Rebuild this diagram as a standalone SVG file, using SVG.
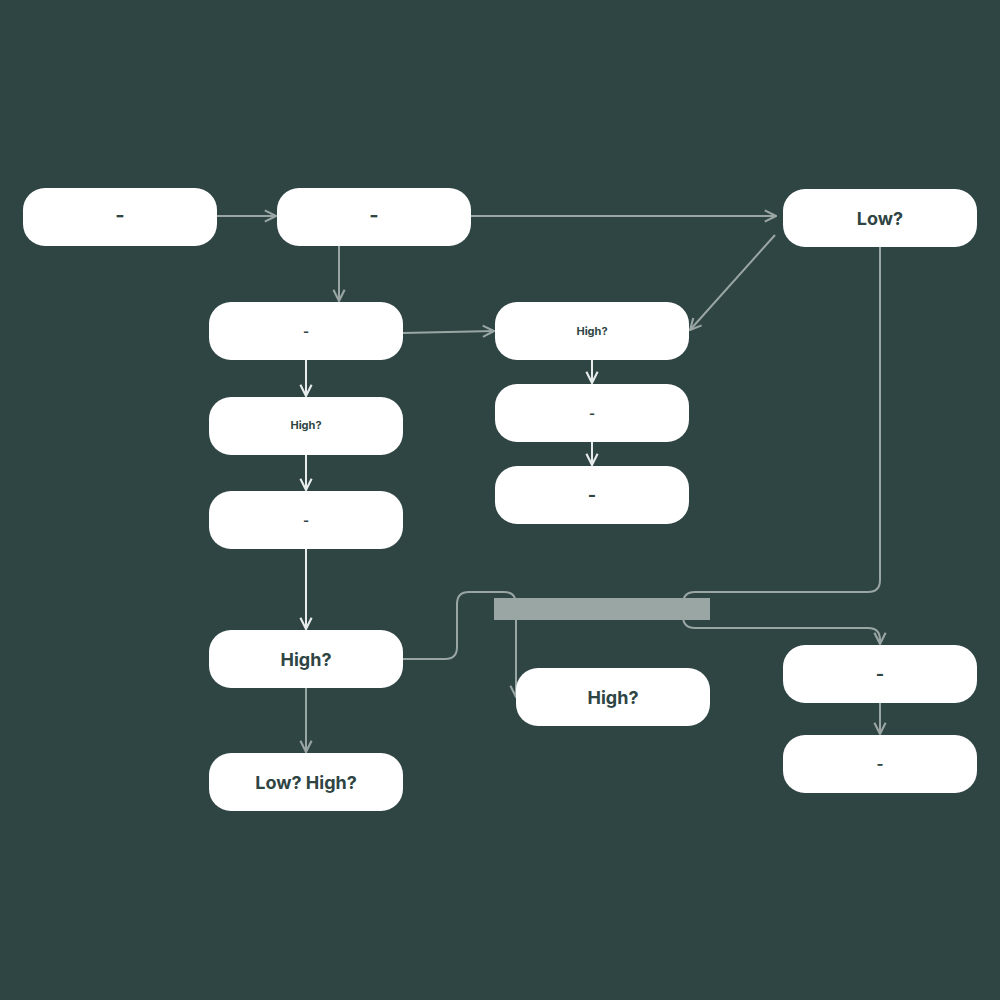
<svg xmlns="http://www.w3.org/2000/svg" width="1000" height="1000" viewBox="0 0 1000 1000">
<defs>
<marker id="ag" viewBox="0 0 10 10" refX="9" refY="5" markerWidth="7" markerHeight="7" orient="auto"><path d="M1,1 L9,5 L1,9" fill="none" stroke="#9aa6a4" stroke-width="1.5"/></marker>
<marker id="aw" viewBox="0 0 10 10" refX="9" refY="5" markerWidth="7" markerHeight="7" orient="auto"><path d="M1,1 L9,5 L1,9" fill="none" stroke="#e8eceb" stroke-width="1.5"/></marker>
</defs>
<style>
.n{fill:#fff}
.t{font-family:Inter,"Liberation Sans",sans-serif;font-weight:bold;fill:#2f4544;text-anchor:middle;dominant-baseline:central}
.g{fill:none;stroke:#9aa6a4;stroke-width:2;marker-end:url(#ag)}
.w{fill:none;stroke:#e8eceb;stroke-width:2;marker-end:url(#aw)}
</style>
<rect width="1000" height="1000" fill="#2f4544"/>
<rect x="494" y="598" width="216" height="22" fill="#9aa6a4"/>
<g id="connectors">
<path class="g" d="M217,216 H276"/>
<path class="g" d="M471,216 H776"/>
<path class="g" d="M775,235 L690,330"/>
<path class="g" d="M339,246 V301"/>
<path class="g" d="M403,333 L494,331"/>
<path class="w" d="M306,360 V396"/>
<path class="w" d="M306,455 V490"/>
<path class="w" d="M306,549 V629"/>
<path class="g" d="M306,688 V752"/>
<path class="w" d="M592,360 V383"/>
<path class="w" d="M592,442 V465"/>
<path class="g" d="M403,659 H445 Q457,659 457,647 V604 Q457,592 469,592 H504 Q516,592 516,604 V697"/>
<path class="g" d="M880,247 V580 Q880,592 868,592 H695 Q683,592 683,604 V616 Q683,628 695,628 H868 Q880,628 880,640 V644"/>
<path class="g" d="M880,703 V734"/>
</g>
<g id="nA"><rect class="n" x="23" y="188" width="194" height="58" rx="22"/><text class="t" x="120" y="215" font-size="20">-</text></g>
<g id="nB"><rect class="n" x="277" y="188" width="194" height="58" rx="22"/><text class="t" x="374" y="215" font-size="20">-</text></g>
<g id="nC"><rect class="n" x="783" y="189" width="194" height="58" rx="22"/><text class="t" x="880" y="218" font-size="18">Low?</text></g>
<g id="nD"><rect class="n" x="209" y="302" width="194" height="58" rx="22"/><text class="t" x="306" y="331" font-size="13">-</text></g>
<g id="nE"><rect class="n" x="495" y="302" width="194" height="58" rx="22"/><text class="t" x="592" y="331" font-size="11">High?</text></g>
<g id="nF"><rect class="n" x="209" y="397" width="194" height="58" rx="22"/><text class="t" x="306" y="425" font-size="11">High?</text></g>
<g id="nG"><rect class="n" x="495" y="384" width="194" height="58" rx="22"/><text class="t" x="592" y="413" font-size="13">-</text></g>
<g id="nH"><rect class="n" x="495" y="466" width="194" height="58" rx="22"/><text class="t" x="592" y="494" font-size="18">-</text></g>
<g id="nI"><rect class="n" x="209" y="491" width="194" height="58" rx="22"/><text class="t" x="306" y="520" font-size="13">-</text></g>
<g id="nJ"><rect class="n" x="209" y="630" width="194" height="58" rx="22"/><text class="t" x="306" y="659" font-size="18">High?</text></g>
<g id="nK"><rect class="n" x="516" y="668" width="194" height="58" rx="22"/><text class="t" x="613" y="697" font-size="18">High?</text></g>
<g id="nL"><rect class="n" x="783" y="645" width="194" height="58" rx="22"/><text class="t" x="880" y="673" font-size="18">-</text></g>
<g id="nM"><rect class="n" x="783" y="735" width="194" height="58" rx="22"/><text class="t" x="880" y="763" font-size="15">-</text></g>
<g id="nN"><rect class="n" x="209" y="753" width="194" height="58" rx="22"/><text class="t" x="306" y="782" font-size="18">Low? High?</text></g>
</svg>
